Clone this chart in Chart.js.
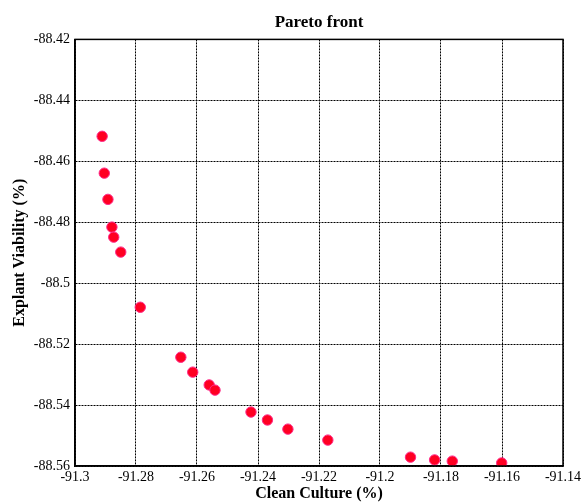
<!DOCTYPE html>
<html>
<head>
<meta charset="utf-8">
<script src="https://cdn.jsdelivr.net/npm/chart.js@4"></script>
<style>
  body { margin: 0; background: #fff; }
  #wrap { width: 582px; height: 504px; }
</style>
</head>
<body>
<div id="wrap"><canvas id="chart-pareto" width="582" height="504"></canvas></div>
<script>
// values
const cleanCulture = [
  -91.2911, -91.2904, -91.2892, -91.2879, -91.2873, -91.2850, -91.2786,
  -91.2653, -91.2614, -91.2560, -91.2541, -91.2423, -91.2369, -91.2302,
  -91.2171, -91.1900, -91.1821, -91.1763, -91.1601
];
const explantViability = [
  -88.4518, -88.4639, -88.4725, -88.4816, -88.4849, -88.4898, -88.5079,
  -88.5243, -88.5292, -88.5334, -88.5351, -88.5423, -88.5449, -88.5479,
  -88.5515, -88.5571, -88.5580, -88.5584, -88.5590
];
const xTicks = [-91.3, -91.28, -91.26, -91.24, -91.22, -91.2, -91.18, -91.16, -91.14];
const yTicks = [-88.42, -88.44, -88.46, -88.48, -88.5, -88.52, -88.54, -88.56];

const points = cleanCulture.map((x, i) => ({ x: x, y: explantViability[i] }));
const serif = "'Liberation Serif', 'Times New Roman', serif";

// solid box round the plot area
const frameBox = {
  id: "frameBox",
  afterDraw(chart) {
    const { ctx, chartArea } = chart;
    ctx.save();
    ctx.strokeStyle = "#000";
    ctx.lineWidth = 1.5;
    ctx.strokeRect(chartArea.left, chartArea.top,
      chartArea.right - chartArea.left, chartArea.bottom - chartArea.top);
    ctx.restore();
  },
};

const ctxPareto = document.getElementById("chart-pareto");

new Chart(ctxPareto, {
  type: "scatter",
  data: {
    datasets: [
      {
        label: "Pareto front",
        data: points,
        pointRadius: 5.2,
        pointHoverRadius: 5.2,
        borderWidth: 1,
        borderColor: "#ff2a8a",
        backgroundColor: "#ff0022",
      },
    ],
  },
  options: {
    responsive: false,
    animation: false,
    layout: { padding: { left: 10, right: 19, top: 4, bottom: 1 } },
    plugins: {
      legend: { display: false },
      tooltip: { enabled: false },
      title: {
        display: true,
        fullSize: false,
        text: "Pareto front",
        color: "#000",
        font: { family: serif, size: 17, weight: "bold" },
        padding: { top: 8, bottom: 7 },
      },
    },
    scales: {
      x: {
        type: "linear",
        min: -91.3,
        max: -91.14,
        afterBuildTicks: (axis) => { axis.ticks = xTicks.map((v) => ({ value: v })); },
        afterFit: (axis) => {
          axis.height = 37;
          axis.paddingLeft = 0;
          axis.paddingRight = 0;
        },
        ticks: {
          color: "#000",
          padding: 3,
          maxRotation: 0,
          font: { family: serif, size: 14 },
          callback: (v) => String(+v.toFixed(2)),
        },
        grid: { color: "#000", lineWidth: 1, drawTicks: false },
        border: { color: "#000", width: 1.5, dash: [2, 1] },
        title: {
          display: true,
          text: "Clean Culture (%)",
          color: "#000",
          padding: 0,
          font: { family: serif, size: 16, weight: "bold" },
        },
      },
      y: {
        type: "linear",
        min: -88.56,
        max: -88.42,
        afterBuildTicks: (axis) => { axis.ticks = yTicks.map((v) => ({ value: v })); },
        afterFit: (axis) => {
          axis.width = 65;
          axis.paddingTop = 0;
          axis.paddingBottom = 0;
        },
        ticks: {
          color: "#000",
          padding: 5,
          font: { family: serif, size: 14 },
          callback: (v) => String(+v.toFixed(2)),
        },
        grid: { color: "#000", lineWidth: 1, drawTicks: false },
        border: { color: "#000", width: 1.5, dash: [2, 1] },
        title: {
          display: true,
          text: "Explant Viability (%)",
          color: "#000",
          padding: 0,
          font: { family: serif, size: 16, weight: "bold" },
        },
      },
    },
  },
  plugins: [frameBox],
});
</script>
</body>
</html>
